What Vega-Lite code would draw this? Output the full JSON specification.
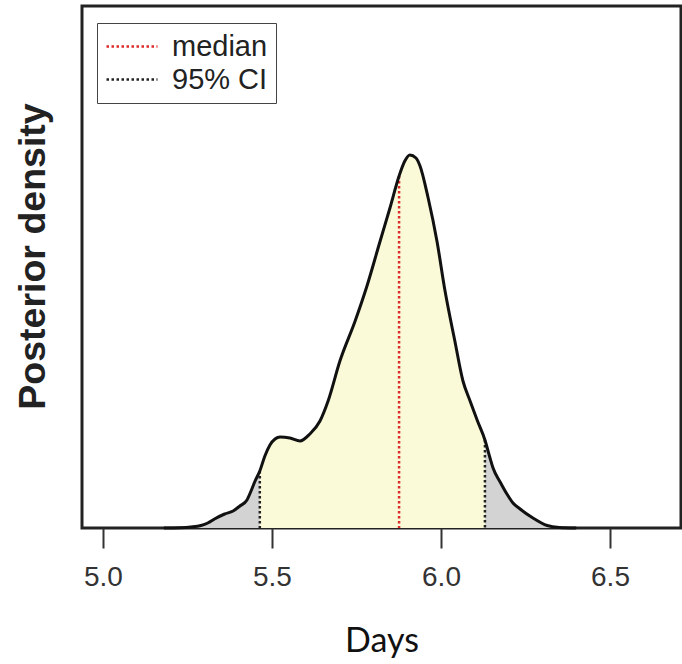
{
  "$schema": "https://vega.github.io/schema/vega-lite/v6.json",
  "width": 599,
  "height": 522,
  "autosize": {"type": "none"},
  "padding": {"left": 82, "top": 6, "right": 1, "bottom": 136},
  "background": "white",
  "config": {
    "view": {"stroke": "#222", "strokeWidth": 3},
    "axis": {"grid": false}
  },
  "datasets": {
    "curve": [
      {"days": 5.18, "density": 0},
      {"days": 5.23, "density": 0.003},
      {"days": 5.26, "density": 0.01},
      {"days": 5.29, "density": 0.025},
      {"days": 5.31, "density": 0.05},
      {"days": 5.33, "density": 0.09},
      {"days": 5.36, "density": 0.14},
      {"days": 5.385, "density": 0.17},
      {"days": 5.405, "density": 0.22},
      {"days": 5.426, "density": 0.28},
      {"days": 5.438, "density": 0.37},
      {"days": 5.45, "density": 0.47},
      {"days": 5.464, "density": 0.57},
      {"days": 5.479, "density": 0.72},
      {"days": 5.494, "density": 0.83},
      {"days": 5.509, "density": 0.89},
      {"days": 5.524, "density": 0.91},
      {"days": 5.553, "density": 0.9},
      {"days": 5.583, "density": 0.87},
      {"days": 5.612, "density": 0.94},
      {"days": 5.642, "density": 1.07},
      {"days": 5.666, "density": 1.27},
      {"days": 5.701, "density": 1.67},
      {"days": 5.746, "density": 2.07},
      {"days": 5.781, "density": 2.42},
      {"days": 5.82, "density": 2.87},
      {"days": 5.849, "density": 3.2},
      {"days": 5.876, "density": 3.52},
      {"days": 5.893, "density": 3.67},
      {"days": 5.908, "density": 3.73},
      {"days": 5.926, "density": 3.7},
      {"days": 5.938, "density": 3.62},
      {"days": 5.962, "density": 3.3},
      {"days": 5.988, "density": 2.87},
      {"days": 6.012, "density": 2.37},
      {"days": 6.041, "density": 1.87},
      {"days": 6.065, "density": 1.47},
      {"days": 6.086, "density": 1.27},
      {"days": 6.108, "density": 1.07},
      {"days": 6.13, "density": 0.88},
      {"days": 6.145, "density": 0.7},
      {"days": 6.154, "density": 0.6},
      {"days": 6.175, "density": 0.46},
      {"days": 6.195, "density": 0.34},
      {"days": 6.213, "density": 0.25},
      {"days": 6.234, "density": 0.19},
      {"days": 6.272, "density": 0.1},
      {"days": 6.314, "density": 0.025},
      {"days": 6.35, "density": 0.005},
      {"days": 6.4, "density": 0}
    ],
    "rules": [
      {"days": 5.876, "top": 3.52, "kind": "median"},
      {"days": 5.464, "top": 0.57, "kind": "95% CI"},
      {"days": 6.13, "top": 0.88, "kind": "95% CI"}
    ]
  },
  "layer": [
    {
      "data": {"name": "curve"},
      "mark": {"type": "area", "color": "#d3d3d3", "interpolate": "monotone"},
      "encoding": {
        "x": {
          "field": "days", "type": "quantitative",
          "scale": {"domain": [4.938, 6.71], "nice": false, "zero": false},
          "axis": {
            "title": "Days", "values": [5, 5.5, 6, 6.5], "format": ".1f",
            "domain": false, "tickSize": 20, "tickWidth": 2, "tickColor": "#333",
            "labelFont": "Liberation Sans", "labelFontSize": 28, "labelColor": "#333", "labelPadding": 15,
            "titleFont": "Lato", "titleFontSize": 34, "titleFontWeight": "normal", "titleColor": "#111", "titlePadding": 33
          }
        },
        "y": {
          "field": "density", "type": "quantitative",
          "scale": {"domain": [0, 5.22], "nice": false},
          "axis": {
            "title": "Posterior density", "ticks": false, "labels": false, "domain": false,
            "titleFont": "Liberation Sans", "titleFontSize": 37.5, "titleFontWeight": "bold", "titleColor": "#222", "titlePadding": 30, "titleY": 250
          }
        }
      }
    },
    {
      "data": {"name": "curve"},
      "transform": [{"filter": "datum.days >= 5.464 && datum.days <= 6.13"}],
      "mark": {"type": "area", "color": "#fafad8", "interpolate": "monotone"},
      "encoding": {
        "x": {"field": "days", "type": "quantitative", "title": "Days"},
        "y": {"field": "density", "type": "quantitative", "title": "Posterior density"}
      }
    },
    {
      "data": {"name": "rules"},
      "mark": {"type": "rule", "strokeWidth": 2.5, "strokeDash": [2.5, 2.5]},
      "encoding": {
        "x": {"field": "days", "type": "quantitative", "title": "Days"},
        "y": {"field": "top", "type": "quantitative", "title": "Posterior density"},
        "y2": {"datum": 0},
        "stroke": {
          "field": "kind", "type": "nominal",
          "scale": {"domain": ["median", "95% CI"], "range": ["#dd2a2a", "#222222"]},
          "legend": {
            "title": null, "orient": "none", "legendX": 15, "legendY": 17,
            "strokeColor": "#444", "fillColor": "white", "padding": 8,
            "symbolType": "stroke", "symbolSize": 2601, "symbolStrokeWidth": 2.5, "symbolDash": [2.5, 2.5],
            "clipHeight": 31,
            "labelFont": "Liberation Sans", "labelFontSize": 29, "labelColor": "#222", "labelOffset": 13, "rowPadding": 2
          }
        }
      }
    },
    {
      "data": {"name": "curve"},
      "mark": {"type": "line", "color": "#111", "strokeWidth": 3, "interpolate": "monotone"},
      "encoding": {
        "x": {"field": "days", "type": "quantitative", "title": "Days"},
        "y": {"field": "density", "type": "quantitative", "title": "Posterior density"}
      }
    }
  ]
}
